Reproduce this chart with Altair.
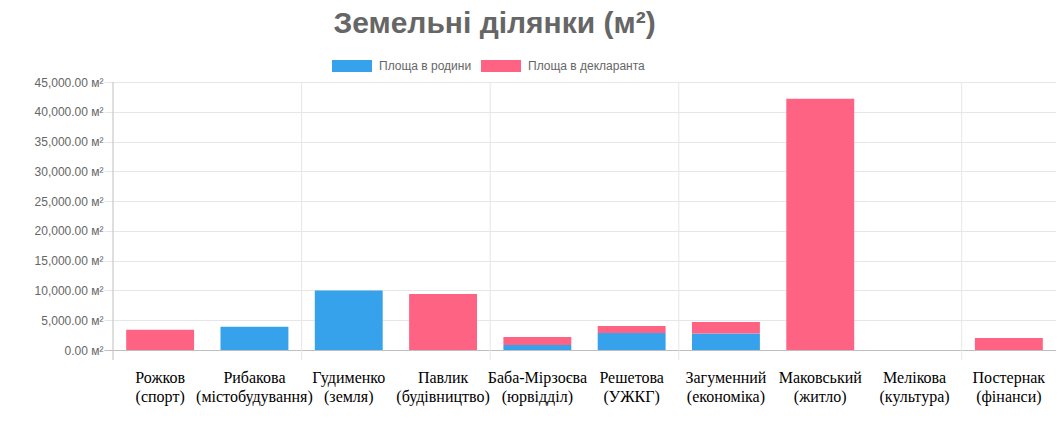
import altair as alt
import pandas as pd

names = ["Рожков", "Рибакова", "Гудименко", "Павлик", "Баба-Мірзоєва",
         "Решетова", "Загуменний", "Маковський", "Мелікова", "Постернак"]
depts = ["(спорт)", "(містобудування)", "(земля)", "(будівництво)", "(юрвідділ)",
         "(УЖКГ)", "(економіка)", "(житло)", "(культура)", "(фінанси)"]
family_area = [0, 3900, 10000, 0, 850, 2850, 2750, 0, 0, 0]
declarant_area = [3400, 0, 0, 9400, 1350, 1180, 1950, 42200, 0, 2000]
series_names = ["Площа в родини", "Площа в декларанта"]
series_colors = ["#36A2EB", "#FF6384"]
y_ticks = list(range(0, 45001, 5000))
grid_after = ["Гудименко", "Баба-Мірзоєва", "Загуменний", "Постернак"]

cats = [f"{n} {d}" for n, d in zip(names, depts)]
rows = []
for c, f, d in zip(cats, family_area, declarant_area):
    rows.append({"cat": c, "series": series_names[0], "value": f, "ord": 0})
    rows.append({"cat": c, "series": series_names[1], "value": d, "ord": 1})
df = pd.DataFrame(rows)

grid_df = pd.DataFrame({"cat": [cats[names.index(n)] for n in grid_after]})
axis_df = pd.DataFrame({"cat": [cats[0]]})

xscale = alt.Scale(domain=cats, paddingInner=0, paddingOuter=0)

xaxis = alt.Axis(title=None, labelAngle=0, ticks=False, domain=False, grid=False,
                 bandPosition=0.5, labelAlign="center", labelOverlap=False,
                 labelFlush=False,
                 labelExpr="split(datum.label, ' ')",
                 labelFont="Liberation Serif", labelFontSize=16,
                 labelColor="#000", labelLineHeight=19, labelPadding=19,
                 labelBaseline="top")

bars = alt.Chart(df).mark_bar(width=alt.RelativeBandSize(0.72)).encode(
    x=alt.X("cat:N", scale=xscale, sort=cats, axis=xaxis),
    y=alt.Y("value:Q", stack="zero", scale=alt.Scale(domain=[0, 45000], nice=False),
            axis=alt.Axis(title=None, values=y_ticks, domain=False,
                          labelExpr="format(datum.value, ',.2f') + ' м²'",
                          labelFont="Liberation Sans", labelFontSize=12, labelColor="#666",
                          tickSize=9, labelPadding=1,
                          gridColor=alt.condition("datum.value === 0", alt.value("#bfbfbf"), alt.value("#e6e6e6")),
                          tickColor=alt.condition("datum.value === 0", alt.value("#bfbfbf"), alt.value("#e6e6e6")))),
    color=alt.Color("series:N", scale=alt.Scale(domain=series_names, range=series_colors),
                    legend=alt.Legend(title=None, orient="none", direction="horizontal",
                                      legendX=219, legendY=-36,
                                      symbolType="M-1,-0.3H1V0.3H-1Z", symbolSize=1600,
                                      symbolStrokeWidth=0, labelFont="Liberation Sans",
                                      labelFontSize=12, labelColor="#666", labelOffset=7,
                                      columnPadding=9)),
    order=alt.Order("ord:Q", sort="ascending"),
)

grid = alt.Chart(grid_df).mark_rule(color="#e6e6e6", strokeWidth=1).encode(
    x=alt.X("cat:N", scale=xscale, sort=cats, bandPosition=0, axis=xaxis),
    y=alt.value(0), y2=alt.value(278),
)
yaxis_line = alt.Chart(axis_df).mark_rule(color="#bfbfbf", strokeWidth=1).encode(
    x=alt.X("cat:N", scale=xscale, sort=cats, bandPosition=0, axis=xaxis),
    y=alt.value(0), y2=alt.value(278),
)

chart = alt.layer(grid, yaxis_line, bars).properties(
    width=943, height=268,
    padding={"left": 105, "top": 74, "right": 0, "bottom": 80},
    autosize=alt.AutoSizeParams(type="none"),
    title=alt.TitleParams("Земельні ділянки (м²)", fontSize=30, font="Liberation Sans",
                          fontWeight="bold", color="#666", anchor="middle",
                          dx=-90, offset=-17, baseline="alphabetic"),
).configure_view(stroke=None)

chart.save("out.html", embed_options={"renderer": "svg", "actions": False})
